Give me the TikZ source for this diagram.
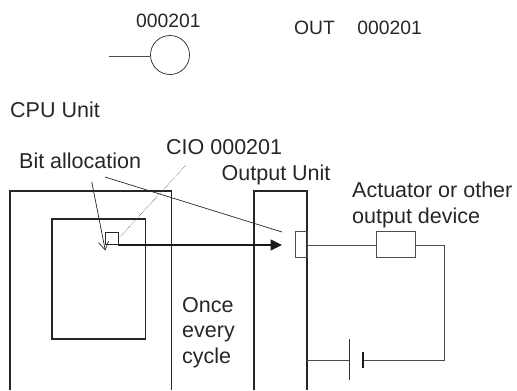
\documentclass[tikz,border=0pt]{standalone}
\usepackage{fontspec}
\setmainfont{Liberation Sans}
\usetikzlibrary{arrows.meta}
\tikzset{
  lbl/.style={inner sep=0pt,anchor=base west,text=black!85,font=\fontsize{19.3bp}{26bp}\selectfont},
  biglbl/.style={inner sep=0pt,anchor=base west,text=black!85,font=\fontsize{21.5bp}{25.5bp}\selectfont},
  heavy/.style={draw=black!85,line width=1.5bp},
  thin wire/.style={draw=black!70,line width=0.9bp},
  leader/.style={draw=black!85,line width=0.7bp},
}
\begin{document}
\begin{tikzpicture}[x=1bp,y=-1bp]
\useasboundingbox (0,0) rectangle (517,390);
% ladder symbol
\node[lbl] (t1) at (136,27) {000201};
\node[draw=black!85,line width=0.7bp,circle,minimum size=39bp,inner sep=0pt] (coil) at (170,55) {};
\coordinate (coilin) at (108.5,56.5);
\draw[thin wire] (coilin) -- (coil.west |- coilin);
\node[lbl] (t2) at (294,34) {OUT\hspace{22.5bp}000201};
% labels
\node[biglbl] (t3) at (10,117) {CPU Unit};
\node[biglbl] (t4) at (19,168.5) {Bit allocation};
\node[biglbl] (t5) at (166,154) {CIO 000201};
\node[biglbl] (t6) at (221.5,180) {Output Unit};
\node[biglbl] (t7) at (352,197) {Actuator or other};
\node[biglbl] (t8) at (352,223) {output device};
\node[biglbl,align=left,anchor=north west] (t9) at (182,297) {Once\\every\\cycle};
% units
\coordinate (o1) at (10,390); \coordinate (o2) at (171.5,390);
\draw[heavy] (o1) -- (10,191) -- (171.5,191) -- (o2);
\node[heavy,draw,minimum width=93.5bp,minimum height=120bp,inner sep=0pt,anchor=north west] (cpu) at (51,218) {};
\coordinate (u1) at (254,390); \coordinate (u2) at (307,390);
\draw[heavy] (u1) -- (254,191) -- (307,191) -- (u2);
% memory bit
\node[draw=black!85,line width=1bp,minimum width=13bp,minimum height=12bp,inner sep=0pt,anchor=north west] (bit) at (105,231.5) {};
% output bit
\node[thin wire,draw,minimum width=12.5bp,minimum height=26bp,inner sep=0pt,anchor=north west] (obit) at (294.5,231) {};
% actuator
\node[thin wire,draw,minimum width=39bp,minimum height=26bp,inner sep=0pt,anchor=north west] (act) at (376,231) {};
% main arrow
\coordinate (as) at (118,245); \coordinate (ae) at (282,245);
\draw[draw=black!90,line width=1.2bp,-{Triangle[length=11.5bp,width=11bp]}] (as) -- (ae);
% circuit
\coordinate (c1) at (307,245); \coordinate (c2) at (444,245); \coordinate (c3) at (444,360);
\coordinate (c4) at (307,360);
\coordinate (b1a) at (349.5,339); \coordinate (b1b) at (349.5,380);
\coordinate (b2a) at (363,352); \coordinate (b2b) at (363,368);
\draw[thin wire] (c1) -- (act.west |- c1);
\draw[thin wire] (act.east |- c2) -- (c2) -- (c3) -- (363,360);
\draw[thin wire] (c4) -- (349.5,360);
\draw[draw=black!80,line width=0.8bp] (b1a) -- (b1b);
\draw[draw=black!90,line width=1.8bp] (b2a) -- (b2b);
% leaders
\coordinate (l1) at (91.7,181.7); \coordinate (l1e) at (105.3,250.5);
\draw[leader,-{Straight Barb[length=8bp,width=10bp]}] (l1) -- (l1e);
\coordinate (l2) at (105,177); \coordinate (l2e) at (282,232);
\draw[leader] (l2) -- (l2e);
\coordinate (l3) at (186,165);
\draw[draw=black!65,line width=0.6bp,densely dotted] (l3) -- (bit.east);
\end{tikzpicture}
\end{document}
